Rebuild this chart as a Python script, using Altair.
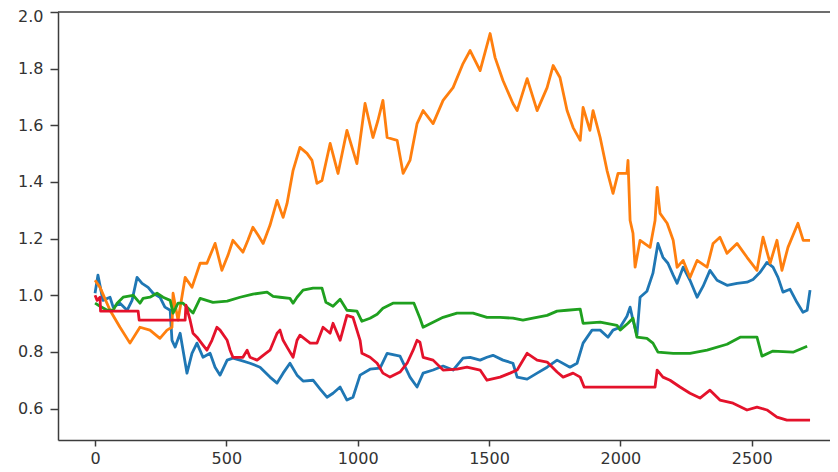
import altair as alt
import pandas as pd

# ---- data (x = step, y = value) ----
blue_x = [0, 11, 30, 57, 69, 95, 122, 141, 160, 179, 202, 221, 247, 266, 286, 293, 305, 324, 350, 369,
          388, 411, 438, 457, 476, 503, 525, 552, 590, 628, 666, 693, 716, 742, 769, 792, 830, 857, 883, 906,
          933, 959, 982, 1009, 1047, 1085, 1112, 1161, 1199, 1226, 1249, 1287, 1325, 1363, 1401, 1428, 1466,
          1492, 1515, 1553, 1591, 1607, 1645, 1683, 1721, 1759, 1808, 1835, 1858, 1892, 1923, 1953, 1972,
          1999, 2025, 2037, 2048, 2063, 2075, 2101, 2124, 2143, 2162, 2181, 2201, 2216, 2239, 2265, 2292,
          2315, 2341, 2368, 2406, 2444, 2482, 2505, 2532, 2558, 2581, 2600, 2619, 2646, 2672, 2695, 2711, 2722]
blue_y = [1.007, 1.071, 0.982, 0.993, 0.958, 0.972, 0.947, 0.982, 1.063, 1.042, 1.028, 1.007, 0.993, 0.958,
          0.947, 0.841, 0.817, 0.866, 0.725, 0.795, 0.831, 0.781, 0.795, 0.746, 0.718, 0.771, 0.778, 0.771,
          0.760, 0.746, 0.711, 0.690, 0.725, 0.760, 0.718, 0.697, 0.700, 0.669, 0.640, 0.654, 0.676, 0.630,
          0.640, 0.718, 0.739, 0.743, 0.795, 0.785, 0.711, 0.676, 0.725, 0.736, 0.750, 0.736, 0.778, 0.781,
          0.771, 0.781, 0.788, 0.771, 0.760, 0.711, 0.704, 0.725, 0.746, 0.771, 0.746, 0.760, 0.831, 0.877,
          0.877, 0.852, 0.877, 0.887, 0.926, 0.958, 0.912, 0.859, 0.993, 1.014, 1.078, 1.183, 1.134, 1.113,
          1.071, 1.042, 1.099, 1.053, 0.993, 1.032, 1.088, 1.053, 1.035, 1.042, 1.046, 1.056, 1.081, 1.116,
          1.099, 1.063, 1.011, 1.021, 0.975, 0.940, 0.947, 1.018]

orange_x = [0, 19, 57, 95, 133, 171, 209, 247, 274, 293, 297, 316, 343, 369, 400, 426, 457, 483, 506, 525,
            563, 582, 601, 621, 640, 666, 693, 716, 731, 754, 780, 807, 826, 845, 864, 895, 925, 959, 997,
            1028, 1058, 1077, 1096, 1112, 1150, 1173, 1199, 1226, 1249, 1287, 1325, 1363, 1401, 1428, 1466,
            1504, 1523, 1553, 1591, 1607, 1645, 1683, 1721, 1744, 1770, 1797, 1820, 1847, 1858, 1884, 1896,
            1923, 1949, 1972, 1991, 2025, 2029, 2037, 2048, 2056, 2075, 2113, 2132, 2140, 2151, 2178, 2201,
            2216, 2239, 2265, 2292, 2330, 2353, 2379, 2406, 2444, 2482, 2520, 2543, 2570, 2596, 2615, 2638,
            2676, 2696, 2722]
orange_y = [1.053, 1.028, 0.947, 0.887, 0.831, 0.887, 0.877, 0.848, 0.877, 0.887, 1.007, 0.912, 1.063,
            1.028, 1.113, 1.113, 1.183, 1.088, 1.141, 1.194, 1.152, 1.194, 1.240, 1.212, 1.183, 1.247, 1.335,
            1.275, 1.324, 1.441, 1.522, 1.501, 1.476, 1.395, 1.405, 1.536, 1.430, 1.582, 1.465, 1.677, 1.557,
            1.617, 1.688, 1.557, 1.547, 1.430, 1.476, 1.606, 1.652, 1.606, 1.688, 1.733, 1.818, 1.864, 1.793,
            1.924, 1.839, 1.758, 1.677, 1.652, 1.765, 1.652, 1.733, 1.811, 1.769, 1.652, 1.592, 1.547, 1.663,
            1.582, 1.652, 1.557, 1.441, 1.360, 1.430, 1.430, 1.476, 1.264, 1.219, 1.099, 1.194, 1.169, 1.264,
            1.381, 1.289, 1.254, 1.194, 1.099, 1.123, 1.063, 1.123, 1.099, 1.183, 1.205, 1.148, 1.183, 1.134,
            1.088, 1.205, 1.113, 1.194, 1.088, 1.169, 1.254, 1.194, 1.194]

green_x = [0, 19, 46, 69, 84, 107, 145, 171, 183, 209, 236, 259, 286, 297, 316, 335, 362, 373, 400, 449,
           503, 552, 601, 655, 678, 704, 742, 754, 769, 792, 830, 864, 879, 906, 933, 959, 997, 1016, 1047,
           1074, 1096, 1134, 1199, 1214, 1237, 1249, 1287, 1325, 1378, 1439, 1492, 1542, 1591, 1629, 1667,
           1721, 1759, 1797, 1847, 1858, 1923, 1987, 1999, 2029, 2048, 2063, 2101, 2124, 2143, 2201, 2265,
           2330, 2406, 2456, 2520, 2539, 2581, 2657, 2711]
green_y = [0.972, 0.961, 0.947, 0.947, 0.972, 0.993, 1.000, 0.972, 0.989, 0.993, 1.007, 0.993, 0.982, 0.937,
           0.972, 0.972, 0.947, 0.937, 0.989, 0.975, 0.979, 0.993, 1.004, 1.011, 0.996, 0.993, 0.989, 0.972,
           0.993, 1.018, 1.025, 1.025, 0.975, 0.961, 0.986, 0.947, 0.944, 0.908, 0.919, 0.933, 0.954, 0.972,
           0.972, 0.972, 0.919, 0.887, 0.905, 0.922, 0.937, 0.937, 0.922, 0.922, 0.919, 0.912, 0.919, 0.929,
           0.944, 0.947, 0.951, 0.901, 0.905, 0.894, 0.877, 0.901, 0.919, 0.852, 0.848, 0.831, 0.799, 0.795,
           0.795, 0.806, 0.827, 0.852, 0.852, 0.785, 0.803, 0.799, 0.820]

red_x = [0, 8, 19, 21, 164, 168, 343, 346, 362, 373, 388, 411, 426, 445, 464, 476, 503, 514, 525, 563, 579,
         590, 617, 640, 666, 693, 704, 716, 731, 754, 769, 780, 819, 845, 868, 895, 906, 933, 959, 982, 1009,
         1016, 1047, 1074, 1096, 1123, 1161, 1188, 1211, 1226, 1237, 1249, 1287, 1325, 1378, 1416, 1466, 1492,
         1542, 1580, 1607, 1645, 1683, 1721, 1759, 1782, 1820, 1847, 1862, 2132, 2140, 2162, 2189, 2227, 2265,
         2303, 2341, 2379, 2429, 2482, 2520, 2558, 2596, 2634, 2722]
red_y = [1.000, 0.982, 0.993, 0.944, 0.944, 0.912, 0.912, 0.965, 0.912, 0.866, 0.852, 0.824, 0.806, 0.841,
         0.887, 0.877, 0.841, 0.806, 0.781, 0.781, 0.806, 0.781, 0.771, 0.788, 0.806, 0.866, 0.877, 0.841,
         0.817, 0.781, 0.841, 0.859, 0.831, 0.831, 0.887, 0.866, 0.901, 0.841, 0.929, 0.922, 0.841, 0.795,
         0.781, 0.760, 0.725, 0.711, 0.729, 0.760, 0.806, 0.841, 0.834, 0.781, 0.771, 0.736, 0.739, 0.746,
         0.736, 0.700, 0.711, 0.725, 0.736, 0.795, 0.771, 0.764, 0.729, 0.711, 0.725, 0.711, 0.676, 0.676,
         0.736, 0.711, 0.700, 0.676, 0.654, 0.637, 0.665, 0.630, 0.619, 0.595, 0.605, 0.595, 0.570, 0.559,
         0.559]

x_ticks = [0, 500, 1000, 1500, 2000, 2500]
y_ticks = [0.6, 0.8, 1.0, 1.2, 1.4, 1.6, 1.8, 2.0]

COLORS = {"blue": "#1f77b4", "orange": "#ff7f0e", "green": "#1fa01f", "red": "#e4122b"}

PLOT_W, PLOT_H = 772, 428
AXIS_COLOR = "#3c3c3c"
TEXT_COLOR = "#333333"

x_scale = alt.Scale(domain=[-141, 2798], nice=False, zero=False)
y_scale = alt.Scale(domain=[0.489, 2.0], nice=False, zero=False)

common_axis = dict(grid=False, title=None, domainColor=AXIS_COLOR, domainWidth=1.5,
                   tickColor=AXIS_COLOR, tickWidth=1.5,
                   labelFont="DejaVu Sans", labelFontSize=16, labelColor=TEXT_COLOR)
x_axis = alt.Axis(values=x_ticks, format="d", tickSize=6, labelPadding=4, **common_axis)
y_axis = alt.Axis(values=y_ticks, format=".1f", tickSize=8, labelPadding=7,
                  labelOffset=alt.condition("datum.value >= 1.99", alt.value(4), alt.value(0)),
                  **common_axis)


def series(name, xs, ys):
    df = pd.DataFrame({"step": xs, "value": ys})
    return alt.Chart(df).mark_line(color=COLORS[name], strokeWidth=2.8, strokeJoin="round",
                                   clip=True).encode(
        x=alt.X("step:Q", scale=x_scale, axis=x_axis),
        y=alt.Y("value:Q", scale=y_scale, axis=y_axis),
    )


top_spine = alt.Chart(pd.DataFrame({"k": [0]})).mark_rule(
    color=AXIS_COLOR, strokeWidth=1.5).encode(
    x=alt.value(0), x2=alt.value(PLOT_W), y=alt.value(0))

chart = alt.layer(
    series("blue", blue_x, blue_y),
    series("orange", orange_x, orange_y),
    series("green", green_x, green_y),
    series("red", red_x, red_y),
    top_spine,
).properties(
    width=PLOT_W, height=PLOT_H,
    padding={"left": 50, "top": 4, "right": 0, "bottom": 26},
    autosize=alt.AutoSizeParams(type="none"),
    background="white",
).configure_view(stroke=None)

chart.save("out.html", embed_options={"renderer": "svg", "actions": False})
